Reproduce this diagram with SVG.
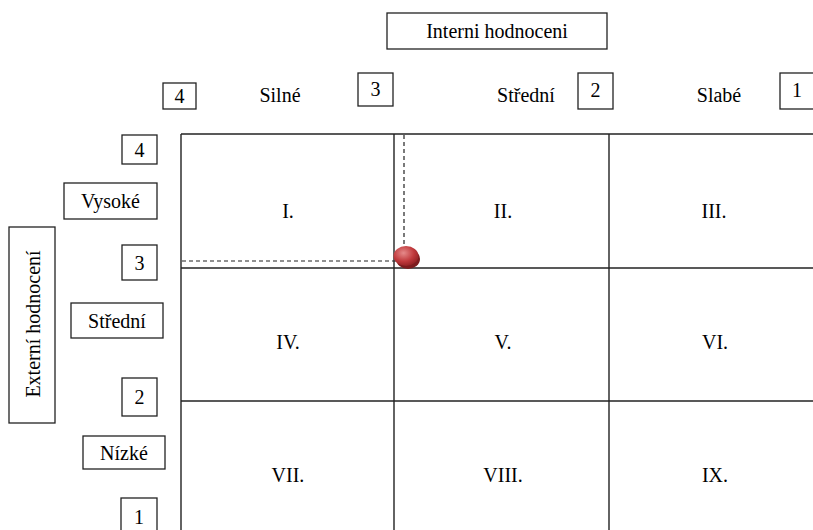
<svg xmlns="http://www.w3.org/2000/svg" width="813" height="530" viewBox="0 0 813 530">
<defs>
<radialGradient id="ball" cx="0.4" cy="0.35" r="0.7">
<stop offset="0" stop-color="#e58a8a"/>
<stop offset="0.6" stop-color="#c0393c"/>
<stop offset="1" stop-color="#8e1f22"/>
</radialGradient>
</defs>
<rect width="813" height="530" fill="#fff"/>
<g id="grid" stroke="#222" stroke-width="1.4" fill="none">
<line x1="181" y1="134" x2="813" y2="134"/>
<line x1="181" y1="268" x2="813" y2="268"/>
<line x1="181" y1="401" x2="813" y2="401"/>
<line x1="181" y1="134" x2="181" y2="530"/>
<line x1="394" y1="134" x2="394" y2="530"/>
<line x1="609" y1="134" x2="609" y2="530"/>
</g>
<g id="connectors" stroke="#222" stroke-width="1.2" stroke-dasharray="4,3" fill="none">
<line x1="404" y1="135" x2="404" y2="250"/>
<line x1="182" y1="261" x2="396" y2="261"/>
</g>
<g id="point">
<ellipse cx="408" cy="259" rx="12" ry="10" fill="#7d1c1e"/>
<ellipse cx="406" cy="256" rx="12.5" ry="10" fill="url(#ball)"/>
</g>
<g id="boxes" stroke="#222" stroke-width="1.3" fill="#fff">
<rect x="387" y="13" width="220" height="36"/>
<rect x="163" y="83" width="33" height="26"/>
<rect x="358" y="73" width="35" height="33"/>
<rect x="578" y="73" width="35" height="36"/>
<rect x="780" y="73" width="40" height="36"/>
<rect x="122" y="135" width="35" height="29"/>
<rect x="64" y="183" width="93" height="36"/>
<rect x="9" y="227" width="46" height="196"/>
<rect x="122" y="245" width="35" height="35"/>
<rect x="71" y="303" width="92" height="35"/>
<rect x="122" y="378" width="35" height="38"/>
<rect x="83" y="436" width="82" height="33"/>
<rect x="121" y="498" width="36" height="40"/>
</g>
<g id="cells">
<text font-family="Times New Roman" font-size="20" text-anchor="middle" x="288" y="218">I.</text>
<text font-family="Times New Roman" font-size="20" text-anchor="middle" x="503" y="218">II.</text>
<text font-family="Times New Roman" font-size="20" text-anchor="middle" x="714" y="218">III.</text>
<text font-family="Times New Roman" font-size="20" text-anchor="middle" x="288" y="349">IV.</text>
<text font-family="Times New Roman" font-size="20" text-anchor="middle" x="503" y="349">V.</text>
<text font-family="Times New Roman" font-size="20" text-anchor="middle" x="715" y="349">VI.</text>
<text font-family="Times New Roman" font-size="20" text-anchor="middle" x="288" y="482">VII.</text>
<text font-family="Times New Roman" font-size="20" text-anchor="middle" x="503" y="482">VIII.</text>
<text font-family="Times New Roman" font-size="20" text-anchor="middle" x="715" y="482">IX.</text>
</g>
<g id="interni"><text font-family="Times New Roman" font-size="20" text-anchor="middle" x="497" y="38">Interni hodnoceni</text></g>
<g id="top4"><text font-family="Times New Roman" font-size="20" text-anchor="middle" x="179.5" y="103">4</text></g>
<g id="silne"><text font-family="Times New Roman" font-size="20" text-anchor="middle" x="280" y="102">Silné</text></g>
<g id="top3"><text font-family="Times New Roman" font-size="20" text-anchor="middle" x="375.5" y="96">3</text></g>
<g id="stredni-top"><text font-family="Times New Roman" font-size="20" text-anchor="middle" x="526" y="102">Střední</text></g>
<g id="top2"><text font-family="Times New Roman" font-size="20" text-anchor="middle" x="595.5" y="97">2</text></g>
<g id="slabe"><text font-family="Times New Roman" font-size="20" text-anchor="middle" x="719" y="102">Slabé</text></g>
<g id="top1"><text font-family="Times New Roman" font-size="20" text-anchor="middle" x="797" y="97">1</text></g>
<g id="left4"><text font-family="Times New Roman" font-size="20" text-anchor="middle" x="139.5" y="157">4</text></g>
<g id="vysoke"><text font-family="Times New Roman" font-size="20" text-anchor="middle" x="110.5" y="208">Vysoké</text></g>
<g id="externi"><text font-family="Times New Roman" font-size="20" text-anchor="middle" transform="translate(40,324) rotate(-90)">Externí hodnocení</text></g>
<g id="left3"><text font-family="Times New Roman" font-size="20" text-anchor="middle" x="139.5" y="270">3</text></g>
<g id="stredni-left"><text font-family="Times New Roman" font-size="20" text-anchor="middle" x="117" y="328">Střední</text></g>
<g id="left2"><text font-family="Times New Roman" font-size="20" text-anchor="middle" x="139.5" y="404">2</text></g>
<g id="nizke"><text font-family="Times New Roman" font-size="20" text-anchor="middle" x="124" y="460">Nízké</text></g>
<g id="left1"><text font-family="Times New Roman" font-size="20" text-anchor="middle" x="139" y="524">1</text></g>
</svg>
